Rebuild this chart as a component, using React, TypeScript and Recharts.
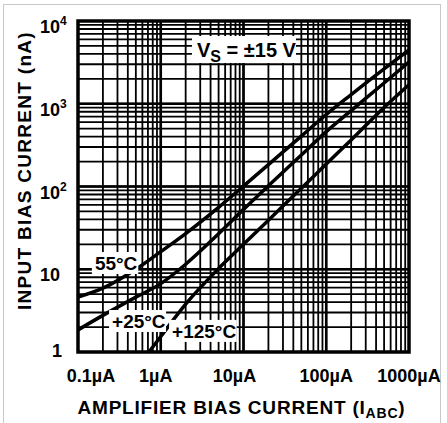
import React from "react";
import {
  LineChart,
  Line,
  XAxis,
  YAxis,
  CartesianGrid,
  ReferenceArea,
  ReferenceLine,
  ReferenceDot,
} from "recharts";

const FONT = "'Liberation Sans', Arial, Helvetica, sans-serif";

// amplifier bias current (µA) where the curves were read
const abcPoints = [0.1, 0.2, 0.5, 1, 2, 5, 10, 20, 50, 100, 200, 500, 1000];
// input bias current (nA)
const bias55 = [4.6, 5.9, 10, 16.3, 27, 56, 101, 184, 406, 741, 1290, 2640, 4460];
const bias25 = [1.85, 2.77, 4.6, 6.7, 11.5, 26.8, 52.9, 102, 240, 461, 826, 1780, 3200];
const abcPoints125 = [0.72, 1, 2, 5, 10, 20, 50, 100, 200, 500, 1000];
const bias125 = [1, 1.54, 3.79, 10.2, 20, 39.2, 95, 187, 365, 901, 1700];

const xDecades = [0.1, 1, 10, 100, 1000];
const xTickLabels = ["0.1µA", "1µA", "10µA", "100µA", "1000µA"];
const yDecades = [1, 10, 100, 1000, 10000];
const yTickBase = ["1", "10", "10", "10", "10"];
const yTickExp = ["", "", "2", "3", "4"];

// curve labels (text start / baseline, in data units)
const curveLabels = ["55°C", "+25°C", "+125°C"];
const curveLabelX = [0.16, 0.258, 1.37];
const curveLabelY = [9.8, 1.95, 1.48];

const minorSteps = [1, 2, 3, 4, 5, 6, 7, 8, 9];
const xTicks = [...[0.1, 1, 10, 100].flatMap((d) => minorSteps.map((m) => d * m)), 1000];
const yTicks = [...[1, 10, 100, 1000].flatMap((d) => minorSteps.map((m) => d * m)), 10000];

const toSeries = (xs: number[], ys: number[]) => xs.map((x, i) => ({ x, y: ys[i] }));
const series55 = toSeries(abcPoints, bias55);
const series25 = toSeries(abcPoints, bias25);
const series125 = toSeries(abcPoints125, bias125);

const sameValue = (a: number, b: number) => Math.abs(a - b) < 1e-9 * Math.max(1, b);

function XTick(props: any) {
  const { x, y, payload } = props;
  const i = xDecades.findIndex((d) => sameValue(payload.value, d));
  if (i < 0) return <g />;
  const nudge = i === 0 ? 13 : i === 1 ? -5 : i === 2 ? -9 : 0;
  return (
    <text x={x + nudge} y={y + 30} textAnchor="middle" fontFamily={FONT} fontWeight="bold" fontSize={18} fill="#000">
      {xTickLabels[i]}
    </text>
  );
}

function YTick(props: any) {
  const { x, y, payload } = props;
  const i = yDecades.findIndex((d) => sameValue(payload.value, d));
  if (i < 0) return <g />;
  const base = i === 0 ? y + 5 : y + 12;
  return (
    <g fontFamily={FONT} fontWeight="bold" fill="#000">
      <text x={x + (i === 0 ? 2 : 0)} y={base} textAnchor="end" fontSize={18}>
        {yTickBase[i]}
      </text>
      {yTickExp[i] && (
        <text x={x} y={base - 8} textAnchor="start" fontSize={12}>
          {yTickExp[i]}
        </text>
      )}
    </g>
  );
}

function CurveLabel(props: any) {
  const { cx, cy, text } = props;
  const w = text.length * 10.6;
  return (
    <g>
      <rect x={cx - 3} y={cy - 18} width={w + 4} height={22} fill="#fff" />
      <text x={cx} y={cy} fontFamily={FONT} fontWeight="bold" fontSize={19} fill="#000">
        {text}
      </text>
    </g>
  );
}

function SupplyLabel(props: any) {
  const { cx, cy } = props;
  return (
    <g>
      <rect x={cx - 5} y={cy - 21} width={104} height={27} fill="#fff" />
      <text x={cx} y={cy} fontFamily={FONT} fontWeight="bold" fontSize={20} fill="#000">
        V
        <tspan fontSize={16} dy={5}>S</tspan>
        <tspan dy={-5}> = ±15 V</tspan>
      </text>
    </g>
  );
}

export default function App() {
  return (
    <div style={{ position: "fixed", left: 0, top: 0, width: 447, height: 423, overflow: "hidden", background: "#fff" }}>
      <div
        style={{
          position: "absolute",
          left: 3,
          top: 4,
          width: 438,
          height: 419,
          boxSizing: "border-box",
          borderTop: "1px solid #c8c8c8",
          borderLeft: "1px solid #c8c8c8",
          borderRight: "1px solid #c8c8c8",
        }}
      />
      <div style={{ position: "absolute", left: 8, top: 8 }}>
        <LineChart width={439} height={415} margin={{ top: 13, right: 38, bottom: 41, left: 0 }}>
          <CartesianGrid stroke="#000" strokeWidth={1.8} />
          <XAxis
            dataKey="x"
            type="number"
            scale="log"
            domain={[0.1, 1000]}
            allowDataOverflow
            ticks={xTicks}
            interval={0}
            tick={<XTick />}
            tickLine={false}
            axisLine={false}
            tickSize={0}
            tickMargin={0}
            height={30}
            label={{
              content: (p: any) => {
                const vb = p.viewBox;
                return (
                  <text
                    x={vb.x + vb.width / 2 - 2}
                    y={vb.y + 62}
                    textAnchor="middle"
                    fontFamily={FONT}
                    fontWeight="bold"
                    fontSize={19}
                    fill="#000"
                    style={{ letterSpacing: 0.8 }}
                  >
                    AMPLIFIER BIAS CURRENT (I
                    <tspan fontSize={14} dy={4}>ABC</tspan>
                    <tspan dy={-4}>)</tspan>
                  </text>
                );
              },
            }}
          />
          <YAxis
            type="number"
            scale="log"
            domain={[1, 10000]}
            allowDataOverflow
            ticks={yTicks}
            interval={0}
            tick={<YTick />}
            tickLine={false}
            axisLine={false}
            tickSize={0}
            tickMargin={18}
            width={70}
            label={{
              content: (p: any) => {
                const vb = p.viewBox;
                const cx = 23;
                const cy = vb.y + vb.height / 2 - 16;
                return (
                  <text
                    x={cx}
                    y={cy}
                    transform={`rotate(-90 ${cx} ${cy})`}
                    textAnchor="middle"
                    fontFamily={FONT}
                    fontWeight="bold"
                    fontSize={19}
                    fill="#000"
                    style={{ letterSpacing: 1.3 }}
                  >
                    INPUT BIAS CURRENT (nA)
                  </text>
                );
              },
            }}
          />
          {[1, 10, 100].map((v) => (
            <ReferenceLine key={`vx${v}`} x={v} stroke="#000" strokeWidth={2.6} />
          ))}
          {[10, 100, 1000].map((v) => (
            <ReferenceLine key={`hy${v}`} y={v} stroke="#000" strokeWidth={2.6} />
          ))}
          <ReferenceArea x1={0.1} x2={1000} y1={1} y2={10000} fill="none" stroke="#000" strokeWidth={3.5} ifOverflow="visible" />
          <ReferenceDot x={2.74} y={3670} ifOverflow="visible" shape={(p: any) => <SupplyLabel {...p} />} />
          {curveLabels.map((t, i) => (
            <ReferenceDot
              key={t}
              x={curveLabelX[i]}
              y={curveLabelY[i]}
              ifOverflow="visible"
              shape={(p: any) => <CurveLabel {...p} text={t} />}
            />
          ))}
          <Line data={series55} dataKey="y" type="monotone" stroke="#000" strokeWidth={3.5} dot={false} activeDot={false} isAnimationActive={false} />
          <Line data={series25} dataKey="y" type="monotone" stroke="#000" strokeWidth={3.5} dot={false} activeDot={false} isAnimationActive={false} />
          <Line data={series125} dataKey="y" type="monotone" stroke="#000" strokeWidth={3.5} dot={false} activeDot={false} isAnimationActive={false} />
        </LineChart>
      </div>
    </div>
  );
}
